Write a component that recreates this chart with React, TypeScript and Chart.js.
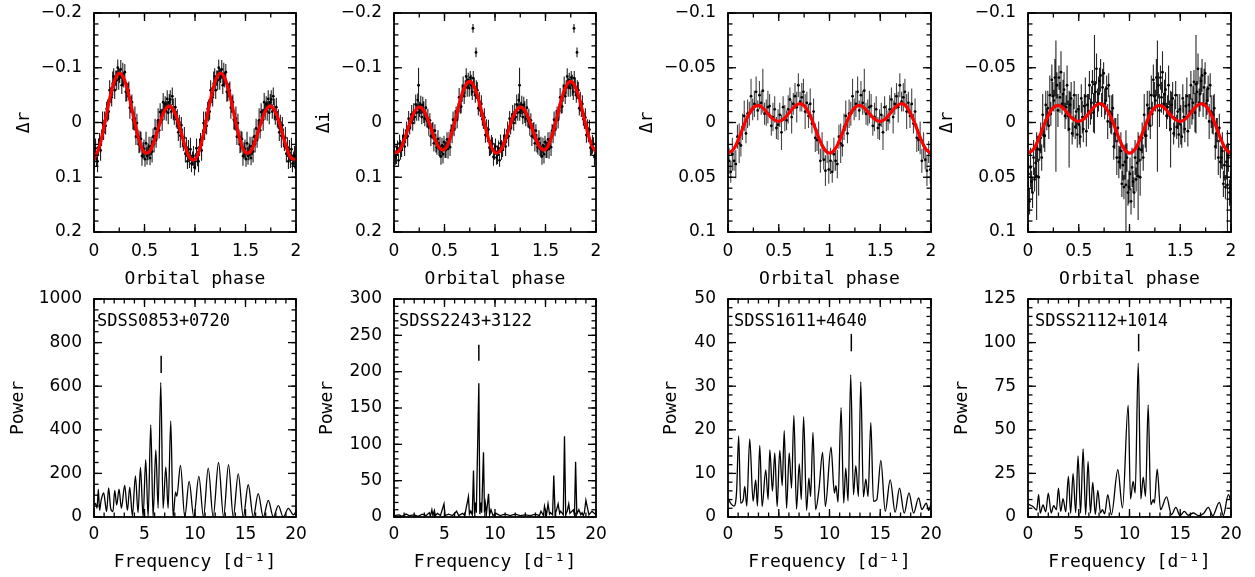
import React, { useEffect, useRef } from 'react';
import { Chart, registerables } from 'chart.js';
Chart.register(...registerables);

// ---------- light-curve data (one orbital cycle, shown twice) ----------
const PHASE_100 = [0.005,0.015,0.025,0.035,0.045,0.055,0.065,0.075,0.085,0.095,0.105,0.115,0.125,0.135,0.145,0.155,0.165,0.175,0.185,0.195,0.205,0.215,0.225,0.235,0.245,0.255,0.265,0.275,0.285,0.295,0.305,0.315,0.325,0.335,0.345,0.355,0.365,0.375,0.385,0.395,0.405,0.415,0.425,0.435,0.445,0.455,0.465,0.475,0.485,0.495,0.505,0.515,0.525,0.535,0.545,0.555,0.565,0.575,0.585,0.595,0.605,0.615,0.625,0.635,0.645,0.655,0.665,0.675,0.685,0.695,0.705,0.715,0.725,0.735,0.745,0.755,0.765,0.775,0.785,0.795,0.805,0.815,0.825,0.835,0.845,0.855,0.865,0.875,0.885,0.895,0.905,0.915,0.925,0.935,0.945,0.955,0.965,0.975,0.985,0.995];

const P1_VAL = [.071,.047,.066,.071,.045,.032,.051,.028,.001,.018,-.003,.006,-.025,-.022,-.020,-.059,-.050,-.046,-.071,-.084,-.059,-.081,-.077,-.100,-.080,-.085,-.097,-.068,-.088,-.078,-.092,-.056,-.055,-.059,-.058,-.027,-.033,-.037,-.005,-.002,-.007,.026,.001,.027,.040,.035,.030,.061,.051,.048,.067,.038,.061,.054,.044,.065,.043,.053,.026,.039,.011,.032,.013,-.004,.014,-.019,-.011,-.005,-.037,-.020,-.034,-.021,-.043,-.018,-.037,-.042,-.020,-.048,-.024,-.010,-.028,-.006,-.006,.018,.000,.024,.005,.028,.039,.028,.057,.045,.071,.049,.068,.049,.075,.066,.061,.082];
const P1_ERR = [.015,.018,.014,.020,.016,.013,.019,.015,.021,.014,.017,.016,.013,.020,.015,.018,.014,.017,.022,.015,.016,.014,.018,.015,.020,.013,.017,.016,.021,.014,.015,.018,.016,.013,.017,.020,.015,.014,.018,.016,.022,.015,.017,.014,.016,.020,.013,.018,.015,.017,.014,.021,.016,.015,.018,.013,.017,.020,.015,.016,.018,.014,.017,.022,.015,.016,.013,.020,.017,.015,.014,.018,.016,.021,.015,.017,.013,.016,.020,.014,.017,.015,.018,.016,.014,.022,.015,.017,.013,.020,.016,.018,.014,.017,.015,.021,.016,.013,.018,.015];

const P2_VAL = [.044,.064,.059,.047,.069,.038,.050,.050,.037,.025,.044,.026,.014,.025,-.007,.009,-.002,-.015,.001,-.019,-.010,-.033,-.018,-.041,-.019,-.024,-.032,-.010,-.032,-.019,-.007,-.027,-.003,-.008,.009,-.004,.025,.015,.015,.038,.015,.038,.045,.030,.048,.045,.062,.042,.058,.036,.049,.050,.031,.048,.031,.045,.015,.021,-.005,.011,-.004,-.016,-.005,-.021,-.046,-.031,-.029,-.054,-.066,-.048,-.064,-.084,-.064,-.077,-.063,-.082,-.068,-.056,-.081,-.064,-.050,-.060,-.059,-.026,-.038,-.024,-.034,-.006,-.003,-.009,.023,.010,.023,.013,.046,.046,.040,.039,.063,.053];
const P2_ERR = [.015,.013,.017,.014,.012,.016,.018,.013,.015,.014,.017,.012,.016,.019,.014,.013,.015,.017,.014,.016,.013,.018,.015,.012,.016,.014,.017,.013,.015,.020,.014,.016,.012,.017,.015,.013,.018,.014,.016,.015,.012,.017,.014,.016,.013,.019,.015,.014,.017,.012,.016,.015,.013,.018,.014,.016,.012,.017,.015,.014,.019,.013,.016,.014,.017,.015,.012,.016,.018,.014,.013,.015,.017,.014,.016,.012,.019,.015,.013,.016,.014,.017,.015,.013,.018,.014,.016,.012,.015,.017,.014,.016,.013,.018,.015,.014,.017,.012,.016,.015];
const P2_OUT_PHASE = [0.782, 0.812, 0.243];
const P2_OUT_VAL = [-0.172, -0.128, -0.068];
const P2_OUT_ERR = [0.008, 0.009, 0.032];

const PHASE_60 = [0.010,0.027,0.043,0.060,0.077,0.093,0.110,0.127,0.143,0.160,0.177,0.193,0.210,0.227,0.243,0.260,0.277,0.293,0.310,0.327,0.343,0.360,0.377,0.393,0.410,0.427,0.443,0.460,0.477,0.493,0.510,0.527,0.543,0.560,0.577,0.593,0.610,0.627,0.643,0.660,0.677,0.693,0.710,0.727,0.743,0.760,0.777,0.793,0.810,0.827,0.843,0.860,0.877,0.893,0.910,0.927,0.943,0.960,0.977,0.993];
const P3_VAL = [.035,.045,.029,.035,.038,.013,.019,.021,.004,-.006,.010,-.008,-.008,-.024,-.012,-.017,-.028,-.011,-.025,-.018,-.029,-.008,-.009,-.014,-.015,.003,-.005,-.012,.005,.002,-.007,.009,-.014,-.004,-.002,-.012,-.021,-.005,-.017,-.024,-.014,-.034,-.019,-.023,-.028,-.010,-.018,-.006,-.017,.001,-.010,.014,.016,.014,.035,.021,.034,.044,.027,.043];
const P3_ERR = [.012,.010,.015,.009,.013,.011,.018,.010,.012,.014,.009,.013,.011,.016,.010,.012,.014,.009,.013,.011,.020,.010,.012,.015,.011,.009,.013,.012,.010,.014,.011,.016,.010,.012,.009,.013,.011,.015,.010,.012,.014,.011,.009,.013,.012,.016,.010,.011,.014,.009,.012,.013,.010,.015,.011,.012,.009,.014,.010,.013];

const P4_VAL = [.047,.072,.041,.054,.064,.032,.052,.037,.049,.024,.050,.025,.014,.032,-.007,.012,.012,-.016,-.003,-.013,.003,-.025,-.008,-.039,-.024,-.020,-.041,-.015,-.034,-.011,-.041,-.023,-.046,-.017,-.026,-.030,-.006,-.014,-.034,-.006,.006,-.016,-.022,.010,-.004,-.025,.004,-.010,.011,-.012,.002,.013,-.022,-.005,.006,-.015,-.024,.008,-.016,-.010,-.034,-.010,-.018,-.037,-.009,-.035,-.028,-.049,-.018,-.026,-.038,-.043,-.016,-.032,-.045,-.017,-.020,-.031,-.001,-.034,-.010,.000,-.007,-.013,.022,.010,.007,.032,.005,.036,.032,.026,.056,.039,.059,.036,.057,.032,.064,.059];
const P4_ERR = [.015,.012,.018,.010,.014,.016,.011,.013,.040,.012,.017,.010,.014,.012,.019,.011,.015,.013,.010,.016,.012,.018,.011,.014,.013,.010,.017,.060,.012,.015,.011,.014,.019,.010,.013,.016,.012,.011,.018,.014,.035,.012,.015,.010,.017,.013,.011,.016,.012,.014,.018,.010,.013,.015,.012,.011,.017,.014,.010,.016,.013,.012,.015,.011,.018,.045,.010,.014,.013,.016,.012,.015,.011,.017,.010,.014,.013,.012,.016,.011,.015,.010,.018,.013,.012,.014,.011,.016,.013,.015,.010,.017,.012,.014,.011,.016,.050,.013,.012,.015];

// model curves (red)
const MODEL_PHASE = [0,0.05,0.1,0.15,0.2,0.25,0.3,0.35,0.4,0.45,0.5,0.55,0.6,0.65,0.7,0.75,0.8,0.85,0.9,0.95,1.0];
const P1_MODEL = [.0674,.0462,.0067,-.0388,-.0750,-.0900,-.0788,-.0460,-.0033,.0344,.0550,.0530,.0319,.0026,-.0218,-.0300,-.0180,.0098,.0419,.0648,.0674];
const P2_MODEL = [.0551,.0523,.0325,.0051,-.0184,-.0280,-.0202,.0015,.0277,.0467,.0491,.0321,.0001,-.0365,-.0649,-.0750,-.0630,-.0329,.0049,.0378,.0551];
const P34_MODEL = [.0280,.0249,.0160,.0043,-.0066,-.0137,-.0156,-.0127,-.0074,-.0027,-.0010,-.0032,-.0084,-.0140,-.0171,-.0153,-.0081,.0030,.0151,.0244,.0280];

// ---------- periodograms ----------
const P5_FREQ = [0,0.15,0.3,0.43,0.55,0.7,0.96,1.15,1.25,1.45,1.65,1.88,2.05,2.25,2.48,2.71,3.04,3.31,3.54,3.8,4.1,4.36,4.6,4.86,5.12,5.36,5.62,5.85,6.12,6.35,6.61,6.84,7.11,7.34,7.6,7.83,8.08,8.2,8.56,8.99,9.42,9.88,10.38,10.84,11.31,11.8,12.33,12.83,13.32,13.79,14.28,14.78,15.27,15.77,16.26,16.76,17.26,17.75,18.25,18.74,19.24,19.74,20];
const P5_POW = [55,62,40,128,30,75,110,50,25,133,40,25,122,55,128,40,145,30,137,5,189,20,227,0,263,0,423,0,308,40,617,40,229,40,441,0,115,95,237,0,163,0,186,0,224,0,250,0,240,0,198,0,148,0,107,0,76,0,52,0,40,10,25];

const P6_FREQ = [0,0.5,0.8,1.2,1.5,2.0,2.4,2.8,3.2,3.5,3.6,3.75,3.85,4.0,4.1,4.3,4.6,4.95,5.05,5.4,5.8,6.2,6.4,6.8,7.0,7.37,7.47,7.6,7.75,7.87,7.97,8.05,8.15,8.4,8.5,8.58,8.68,8.86,8.96,9.05,9.15,9.36,9.46,9.6,9.8,10.1,10.5,11,11.5,12,12.5,13,13.5,14,14.4,14.55,14.8,14.9,15.1,15.25,15.4,15.5,15.7,15.82,15.95,16.1,16.25,16.4,16.5,16.76,16.88,17.0,17.15,17.3,17.42,17.75,17.87,17.98,18.1,18.3,18.5,18.62,18.74,18.85,19.0,19.3,19.6,20];
const P6_POW = [2,3,1,4,2,3,1,4,2,6,1,10,2,9,2,5,2,18,2,4,2,8,2,5,2,28,4,8,3,64,5,20,6,184,4,20,6,89,6,18,4,32,3,10,2,5,2,4,2,4,2,3,2,4,2,8,2,15,3,18,4,6,3,57,4,10,18,5,8,3,111,4,8,18,5,10,3,76,4,10,3,6,2,6,23,3,8,3,5,3];

const P7_FREQ = [0,0.3,0.6,0.85,1.05,1.25,1.5,1.65,1.85,2.14,2.47,2.73,2.9,3.13,3.36,3.72,3.95,4.12,4.38,4.61,4.84,5.1,5.34,5.54,5.77,6.03,6.26,6.49,6.75,7.02,7.22,7.45,7.74,7.97,8.14,8.37,8.63,8.96,9.32,9.59,10.15,10.48,10.64,10.84,11.14,11.4,11.6,11.83,12.09,12.36,12.59,12.85,13.08,13.34,13.58,13.8,14.07,14.33,14.66,15.06,15.49,15.98,16.47,16.9,17.36,17.83,18.29,18.78,19.1,19.54,19.77,20];
const P7_POW = [4.3,3.0,2.5,6,18.6,3.2,4,7,2.5,17.9,3.6,8.5,2.5,16.4,2.4,10.8,4,15.4,5.9,14.7,2.4,15.3,7.2,19.8,2,14.7,6.6,23.3,1.8,12.2,4,23,1.5,8.9,4.7,19.4,1.7,6.3,14.8,2.4,16,5.5,7.2,3.4,25.1,3.2,11.2,3.7,32.6,5.1,11.8,4.7,31,4.6,8.7,4.7,21.7,3.6,4,13,1.3,8.5,1.1,6.6,0.9,5.5,0.9,4.4,1.7,3.2,1.5,3];

const P8_FREQ = [0,0.5,0.85,1.05,1.2,1.48,1.75,2.0,2.28,2.53,2.8,3.0,3.22,3.45,3.72,3.98,4.2,4.44,4.7,4.93,5.18,5.43,5.68,5.92,6.15,6.38,6.63,6.88,7.14,7.34,7.55,7.86,8.22,8.85,9.31,9.87,10.1,10.36,10.56,10.86,11.12,11.35,11.58,11.84,12.1,12.34,12.45,12.73,13.06,13.65,14.14,14.57,14.97,15.4,15.8,16.28,16.78,17.3,17.76,18.2,18.85,19.24,19.74,20];
const P8_POW = [7.4,6,4,12.8,2.3,6.9,3,13.7,2.3,6.5,4.2,16.6,3.2,10.5,3,23.3,2.3,24.8,2.5,35.1,2.3,39.1,1.3,31.9,2.3,19.8,1.5,15.3,2.3,4.2,1.8,12.8,1.3,27.1,5.2,64.1,10.3,20.4,13.7,88.2,10.3,22.9,11.8,64.3,7.1,9.9,8,27.5,4.2,11.5,1.3,5.5,0.8,3.2,1,2.3,0.8,2,5.5,0.8,8.4,0.8,12.8,9];

// markers above the orbital frequency peak
const MARK_FREQ = [6.65, 8.4, 12.15, 10.9];
const MARK_LO = [660, 215, 38, 95];
const MARK_HI = [740, 237, 42, 105];
const NAMES = ['SDSS0853+0720', 'SDSS2243+3122', 'SDSS1611+4640', 'SDSS2112+1014'];

// ---------- styling helpers ----------
const TICK_FONT = { family: '"DejaVu Sans", sans-serif', size: 17 };
const TITLE_FONT = { family: '"DejaVu Sans Mono", monospace', size: 18 };

const fmt = (v: number) => {
  const n = Math.round(v * 1000) / 1000;
  if (n === 0) return '0';
  return (n < 0 ? '\u2212' : '') + String(Math.abs(n));
};

const framePlugin = {
  id: 'frame',
  afterDatasetsDraw(chart: any, _args: any, o: any) {
    const { ctx, chartArea: a } = chart;
    const xs = chart.scales.x, ys = chart.scales.y;
    ctx.save();
    ctx.strokeStyle = '#000';
    ctx.lineWidth = 1.3;
    const seg = (x1: number, y1: number, x2: number, y2: number) => {
      ctx.beginPath(); ctx.moveTo(x1, y1); ctx.lineTo(x2, y2); ctx.stroke();
    };
    const marks = (scale: any, step: number, len: number, horiz: boolean) => {
      const n = Math.round((scale.max - scale.min) / step);
      for (let i = 0; i <= n; i++) {
        const p = scale.getPixelForValue(scale.min + i * step);
        if (horiz) { seg(p, a.bottom, p, a.bottom - len); seg(p, a.top, p, a.top + len); }
        else { seg(a.left, p, a.left + len, p); seg(a.right, p, a.right - len, p); }
      }
    };
    marks(xs, o.xMinor, 4.5, true);
    marks(xs, o.xMajor, 8, true);
    marks(ys, o.yMinor, 4.5, false);
    marks(ys, o.yMajor, 8, false);
    ctx.lineWidth = 1.8;
    ctx.strokeRect(a.left, a.top, a.right - a.left, a.bottom - a.top);
    if (o.label) {
      ctx.font = '17px "DejaVu Sans Mono", monospace';
      ctx.fillStyle = '#000';
      ctx.textBaseline = 'middle';
      ctx.textAlign = 'left';
      ctx.fillText(o.label, a.left + o.labelDx, a.top + o.labelDy);
    }
    ctx.restore();
  },
};

type Axis = { min: number; max: number; major: number; minor: number; title: string; reverse?: boolean };

function baseOptions(yW: number, xH: number, xAx: Axis, yAx: Axis, xPad: number, yTitlePad: number, frameOpts: any) {
  return {
    animation: false,
    responsive: false,
    devicePixelRatio: 1,
    layout: { padding: { left: 0, top: 13, right: 12, bottom: 0 } },
    plugins: {
      legend: { display: false },
      tooltip: { enabled: false },
      frame: { xMajor: xAx.major, xMinor: xAx.minor, yMajor: yAx.major, yMinor: yAx.minor, ...frameOpts },
    },
    scales: {
      x: {
        type: 'linear', min: xAx.min, max: xAx.max,
        afterFit: (s: any) => { s.height = xH; s.paddingLeft = 0; s.paddingRight = 0; },
        grid: { display: false, drawTicks: false }, border: { display: false },
        ticks: { stepSize: xAx.major, autoSkip: false, maxRotation: 0, padding: xPad, font: TICK_FONT, color: '#000', callback: (v: any) => fmt(Number(v)) },
        title: { display: true, text: xAx.title, font: TITLE_FONT, color: '#000', padding: { top: 0, bottom: 4.2 } },
      },
      y: {
        type: 'linear', min: yAx.min, max: yAx.max, reverse: !!yAx.reverse,
        afterFit: (s: any) => { s.width = yW; s.paddingTop = 0; s.paddingBottom = 0; },
        grid: { display: false, drawTicks: false }, border: { display: false },
        ticks: { stepSize: yAx.major, autoSkip: false, padding: 12, font: TICK_FONT, color: '#000', callback: (v: any) => fmt(Number(v)) },
        title: { display: true, text: yAx.title, font: TITLE_FONT, color: '#000', padding: { top: yTitlePad, bottom: 0 } },
      },
    },
  };
}

function lightCurveConfig(p: any) {
  const pts: any[] = [];
  const bars: any[] = [];
  for (const c of [0, 1]) {
    for (let i = 0; i < p.phase.length; i++) {
      const x = p.phase[i] + c;
      pts.push({ x, y: p.val[i] });
      bars.push({ x, y: p.val[i] - p.err[i] }, { x, y: p.val[i] + p.err[i] }, { x, y: null });
    }
  }
  const model: any[] = [];
  MODEL_PHASE.forEach((ph, i) => model.push({ x: ph, y: p.model[i] }));
  MODEL_PHASE.slice(1).forEach((ph, i) => model.push({ x: ph + 1, y: p.model[i + 1] }));
  const yAx: Axis = { min: -p.yLim, max: p.yLim, major: p.yMajor, minor: p.yMinor, title: p.yTitle, reverse: true };
  const xAx: Axis = { min: 0, max: 2, major: 0.5, minor: 0.25, title: 'Orbital phase' };
  return {
    type: 'line',
    data: {
      datasets: [
        { data: model, borderColor: '#ff0000', borderWidth: 3.2, pointRadius: 0, tension: 0.4, fill: false },
        { data: pts, showLine: false, pointRadius: 1.4, pointBackgroundColor: '#000', pointBorderWidth: 0 },
        { data: bars, borderColor: p.barColor, borderWidth: 1.1, pointRadius: 0, spanGaps: false, tension: 0 },
      ],
    },
    options: baseOptions(p.yW, 62, xAx, yAx, 9, p.yTitlePad, {}),
    plugins: [framePlugin],
  };
}

function periodogramConfig(p: any) {
  const line = p.freq.map((f: number, i: number) => ({ x: f, y: p.pow[i] }));
  const mark = [{ x: MARK_FREQ[p.idx], y: MARK_LO[p.idx] }, { x: MARK_FREQ[p.idx], y: MARK_HI[p.idx] }];
  const yAx: Axis = { min: 0, max: p.yMax, major: p.yMajor, minor: p.yMinor, title: 'Power' };
  const xAx: Axis = { min: 0, max: 20, major: 5, minor: 1, title: 'Frequency [d\u207B\u00B9]' };
  return {
    type: 'line',
    data: {
      datasets: [
        { data: mark, borderColor: '#000', borderWidth: 1.5, pointRadius: 0, tension: 0 },
        p.sharp
          ? { data: line, borderColor: '#000', borderWidth: 1.3, pointRadius: 0, tension: 0 }
          : { data: line, borderColor: '#000', borderWidth: 1.3, pointRadius: 0, cubicInterpolationMode: 'monotone' },
      ],
    },
    options: baseOptions(p.yW, 60, xAx, yAx, 7, p.yTitlePad, { label: NAMES[p.idx], labelDx: p.labelDx, labelDy: 23 }),
    plugins: [framePlugin],
  };
}

const PANELS = [
  { l: 0, t: 0, w: 308, h: 294, cfg: () => lightCurveConfig({ phase: PHASE_100, val: P1_VAL, err: P1_ERR, model: P1_MODEL, yLim: 0.2, yMajor: 0.1, yMinor: 0.02, yTitle: '\u0394r', yW: 94, yTitlePad: 13.2, barColor: '#1e1e1e' }) },
  { l: 300, t: 0, w: 308, h: 294, cfg: () => lightCurveConfig({ phase: PHASE_100.concat(P2_OUT_PHASE), val: P2_VAL.concat(P2_OUT_VAL), err: P2_ERR.concat(P2_OUT_ERR), model: P2_MODEL, yLim: 0.2, yMajor: 0.1, yMinor: 0.02, yTitle: '\u0394i', yW: 94, yTitlePad: 13.2, barColor: '#1e1e1e' }) },
  { l: 630, t: 0, w: 313, h: 294, cfg: () => lightCurveConfig({ phase: PHASE_60, val: P3_VAL, err: P3_ERR, model: P34_MODEL, yLim: 0.1, yMajor: 0.05, yMinor: 0.01, yTitle: '\u0394r', yW: 98, yTitlePad: 6.2, barColor: '#444' }) },
  { l: 930, t: 0, w: 313, h: 294, cfg: () => lightCurveConfig({ phase: PHASE_100, val: P4_VAL, err: P4_ERR, model: P34_MODEL, yLim: 0.1, yMajor: 0.05, yMinor: 0.01, yTitle: '\u0394r', yW: 98, yTitlePad: 6.2, barColor: '#262626' }) },
  { l: 0, t: 286, w: 308, h: 291, cfg: () => periodogramConfig({ idx: 0, freq: P5_FREQ, pow: P5_POW, yMax: 1000, yMajor: 200, yMinor: 50, yW: 94, yTitlePad: 7.7, labelDx: 3 }) },
  { l: 300, t: 286, w: 308, h: 291, cfg: () => periodogramConfig({ idx: 1, freq: P6_FREQ, pow: P6_POW, yMax: 300, yMajor: 50, yMinor: 10, yW: 94, yTitlePad: 16.2, labelDx: 5, sharp: true }) },
  { l: 630, t: 286, w: 313, h: 291, cfg: () => periodogramConfig({ idx: 2, freq: P7_FREQ, pow: P7_POW, yMax: 50, yMajor: 10, yMinor: 2, yW: 98, yTitlePad: 30.2, labelDx: 6 }) },
  { l: 930, t: 286, w: 313, h: 291, cfg: () => periodogramConfig({ idx: 3, freq: P8_FREQ, pow: P8_POW, yMax: 125, yMajor: 25, yMinor: 5, yW: 98, yTitlePad: 21.2, labelDx: 7 }) },
];

function Panel({ spec }: { spec: any }) {
  const ref = useRef<HTMLCanvasElement>(null);
  useEffect(() => {
    const chart = new Chart(ref.current as HTMLCanvasElement, spec.cfg() as any);
    return () => chart.destroy();
  }, []);
  return (
    <canvas
      ref={ref}
      width={spec.w}
      height={spec.h}
      style={{ position: 'absolute', left: spec.l, top: spec.t, width: spec.w, height: spec.h }}
    />
  );
}

export default function App() {
  return (
    <div style={{ position: 'absolute', left: 0, top: 0, width: 1255, height: 577, background: '#fff', overflow: 'hidden' }}>
      {PANELS.map((s, i) => <Panel key={i} spec={s} />)}
    </div>
  );
}
